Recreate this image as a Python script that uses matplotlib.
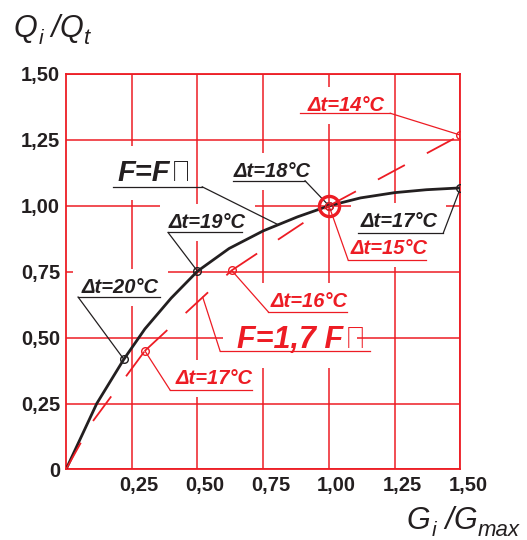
import numpy as np
import matplotlib
matplotlib.use('Agg')
import matplotlib.pyplot as plt
import matplotlib.transforms as mtrans

plt.rcParams['font.family'] = ['Liberation Sans', 'DejaVu Sans']
plt.rcParams['lines.scale_dashes'] = False

RED = '#ed1c24'
BLK = '#231f20'

# F = Fп (solid black curve)
g_black = [0, 0.117, 0.22, 0.30, 0.40, 0.50, 0.62, 0.75, 0.88, 1.00, 1.12, 1.25, 1.37, 1.50]
q_black = [0, 0.25, 0.418, 0.533, 0.65, 0.752, 0.838, 0.905, 0.958, 1.00, 1.03, 1.05, 1.061, 1.068]
black_marks = [2, 5, 9, 13]
black_dt = ['Δt=20°C', 'Δt=19°C', 'Δt=18°C', 'Δt=17°C']

# F = 1,7 Fп (red dashed curve)
g_red = [0, 0.10, 0.30, 0.63, 1.00, 1.50]
q_red = [0, 0.18, 0.45, 0.755, 1.00, 1.268]
red_marks = [2, 3, 4, 5]
red_dt = ['Δt=17°C', 'Δt=16°C', 'Δt=15°C', 'Δt=14°C']

ticks = [0, 0.25, 0.50, 0.75, 1.00, 1.25, 1.50]
tick_labels = ['0', '0,25', '0,50', '0,75', '1,00', '1,25', '1,50']

fig = plt.figure(figsize=(5.27, 5.40), dpi=100)
ax = fig.add_axes([0.1252, 0.1306, 0.7486, 0.7324])
ax.set_xlim(0, 1.5)
ax.set_ylim(0, 1.5)
ax.set_axisbelow(True)
ax.grid(True, color=RED, lw=1.1)
for s in ax.spines.values():
    s.set_color(RED)
    s.set_linewidth(1.3)

ax.set_xticks(ticks[1:])
ax.set_xticklabels(tick_labels[1:])
ax.set_yticks(ticks)
ax.set_yticklabels(tick_labels)
ax.tick_params(axis='both', length=0, labelsize=14.5, labelcolor=BLK)
ax.tick_params(axis='x', pad=4.7)
ax.tick_params(axis='y', pad=4.3)
off = mtrans.ScaledTranslation(0.075, 0, fig.dpi_scale_trans)
for lab in ax.get_xticklabels() + ax.get_yticklabels():
    lab.set_fontweight('bold')
for lab in ax.get_xticklabels():
    lab.set_transform(lab.get_transform() + off)

# curves
ax.plot(g_black, q_black, color=BLK, lw=2.0, zorder=4, solid_capstyle='round',
        solid_joinstyle='round')
for a, b in zip([0] + red_marks[:-1], red_marks):
    ax.plot(g_red[a:b + 1], q_red[a:b + 1], color=RED, lw=1.3,
            ls=(0, (22, 18)), zorder=4)

ax.plot([g_black[i] for i in black_marks], [q_black[i] for i in black_marks], 'o',
        ms=5.5, mfc='none', mec=BLK, mew=1.0, zorder=6)
ax.plot([g_red[i] for i in red_marks], [q_red[i] for i in red_marks], 'o',
        ms=5.5, mfc='none', mec=RED, mew=1.0, zorder=6)
ax.plot([1.0], [1.0], 'o', ms=14.5, mfc='none', mec=RED, mew=2.4, zorder=7)

box = dict(boxstyle='square,pad=0.45', fc='white', ec='none')


def label(txt, x, y, col, ul, side, tip, size=14.5):
    ax.text(x, y, txt, color=col, fontsize=size, fontstyle='italic',
            fontweight='bold', ha='left', va='baseline', bbox=box, zorder=3)
    x0, x1, yu = ul
    ax.plot([x0, x1], [yu, yu], color=col, lw=0.9, zorder=5)
    xs = x0 if side == 'l' else x1
    ax.plot([xs, tip[0]], [yu, tip[1]], color=col, lw=0.9, zorder=5)


# black labels
label(black_dt[0], 0.061, 0.669, BLK, (0.046, 0.358, 0.654), 'l',
      (g_black[black_marks[0]], q_black[black_marks[0]]))
label(black_dt[1], 0.392, 0.916, BLK, (0.388, 0.670, 0.899), 'l',
      (g_black[black_marks[1]], q_black[black_marks[1]]))
label(black_dt[2], 0.636, 1.109, BLK, (0.636, 0.909, 1.095), 'r',
      (g_black[black_marks[2]], q_black[black_marks[2]]))
label(black_dt[3], 1.119, 0.921, BLK, (1.111, 1.435, 0.898), 'r',
      (g_black[black_marks[3]], q_black[black_marks[3]]))

# red labels
label(red_dt[0], 0.415, 0.324, RED, (0.396, 0.708, 0.301), 'l',
      (g_red[red_marks[0]], q_red[red_marks[0]]))
label(red_dt[1], 0.777, 0.617, RED, (0.769, 1.070, 0.598), 'l',
      (g_red[red_marks[1]], q_red[red_marks[1]]))
label(red_dt[2], 1.081, 0.817, RED, (1.073, 1.370, 0.794), 'l',
      (g_red[red_marks[2]], q_red[red_marks[2]]))
label(red_dt[3], 0.917, 1.361, RED, (0.891, 1.233, 1.351), 'r',
      (g_red[red_marks[3]], q_red[red_marks[3]]))


def big_label(txt, x, y, col, size, ul, side, tip_x, gx, qy):
    t = ax.text(x, y, txt, color=col, fontsize=size, fontstyle='italic',
                fontweight='bold', ha='left', va='baseline', bbox=box, zorder=3)
    ax.annotate('п', xy=(1, y), xycoords=(t, 'data'), xytext=(1, 0),
                textcoords='offset points', annotation_clip=False,
                color=col, fontsize=size * 1.25, family=['Roboto', 'Liberation Sans'],
                fontweight='light', ha='left', va='baseline', zorder=3)
    x0, x1, yu = ul
    ax.plot([x0, x1], [yu, yu], color=col, lw=0.9, zorder=5)
    xs = x0 if side == 'l' else x1
    ax.plot([xs, tip_x], [yu, np.interp(tip_x, gx, qy)], color=col, lw=0.9, zorder=5)


big_label('F=F', 0.194, 1.093, BLK, 21, (0.179, 0.518, 1.072), 'r', 0.807, g_black, q_black)
big_label('F=1,7 F', 0.651, 0.462, RED, 22, (0.586, 1.157, 0.449), 'l', 0.52, g_red, q_red)


def axis_title(x, y, main, sub, main2, sub2):
    kw = dict(color=BLK, fontstyle='italic')
    t1 = fig.text(x, y, main, fontsize=22, va='baseline', ha='left', **kw)
    t2 = fig.add_artist(plt.Annotation(sub, xy=(1, 0), xycoords=t1, xytext=(1, 0),
                                       textcoords='offset points', fontsize=15,
                                       va='baseline', ha='left', **kw))
    t3 = fig.add_artist(plt.Annotation(main2, xy=(1, 0), xycoords=(t2, t1),
                                       xytext=(0, 0), textcoords='offset points',
                                       fontsize=22, va='bottom', ha='left', **kw))
    fig.add_artist(plt.Annotation(sub2, xy=(1, 0), xycoords=t3, xytext=(0, 0),
                                  textcoords='offset points', fontsize=16,
                                  va='baseline', ha='left', **kw))


axis_title(0.026, 0.931, 'Q', 'i', ' /Q', 't')
axis_title(0.772, 0.02, 'G', 'i', ' /G', 'max')

fig.savefig('out.png', dpi=100)
